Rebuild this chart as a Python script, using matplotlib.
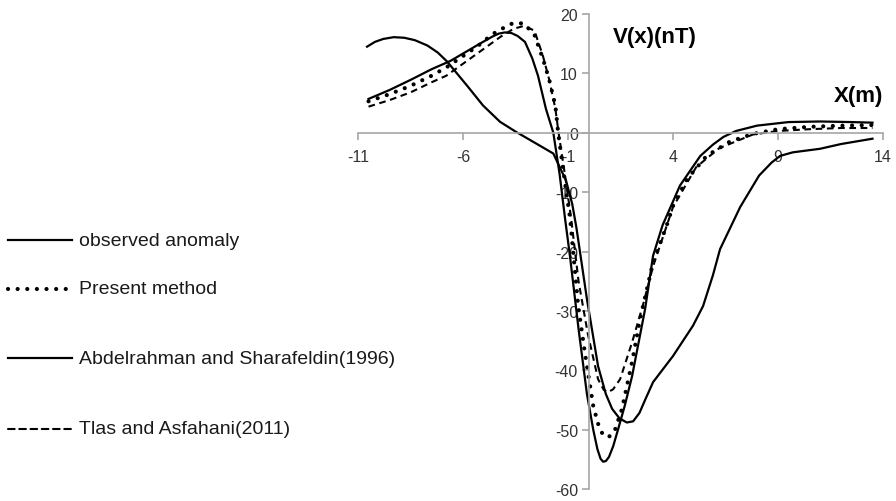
import matplotlib
matplotlib.use('Agg')
import matplotlib.pyplot as plt
from matplotlib.lines import Line2D

plt.rcParams['font.family'] = ['Liberation Sans', 'DejaVu Sans']
plt.rcParams['axes.unicode_minus'] = False

# observed anomaly (solid)
obs_x = [-10.5, -9.5, -8.5, -7.5, -6.6, -5.2, -4.6, -4.3, -4.0, -3.7, -3.4, -3.05, -2.7, -2.43, -2.05, -1.7,
         -1.4, -1.14, -0.9, -0.5, -0.1, 0.2, 0.4, 0.55, 0.67, 0.8, 0.95, 1.15, 1.38, 1.7, 2.05, 2.67, 3.05, 3.5,
         4.33, 5.3, 5.9, 6.4, 7.0, 8.0, 9.5, 11.0, 12.5, 13.5]
obs_y = [5.7, 7.2, 8.9, 10.7, 12.1, 15.0, 16.2, 16.7, 16.9, 16.8, 16.3, 15.3, 12.5, 9.6, 4.0, 0.0,
         -7.0, -14.5, -21.0, -33.0, -44.0, -50.0, -53.3, -54.9, -55.4, -55.3, -54.6, -52.8, -50.0, -46.0, -41.0, -29.7, -20.7, -15.6,
         -8.9, -3.9, -2.0, -0.7, 0.3, 1.2, 1.8, 1.9, 1.8, 1.7]

# present method (dotted)
pm_x = [-10.5, -9.5, -8.5, -7.5, -6.8, -5.3, -4.6, -4.0, -3.6, -3.1, -2.6, -2.2, -1.9, -1.6,
        -1.47, -1.2, -0.9, -0.52, -0.2, 0.2, 0.43, 0.65, 0.86, 1.05, 1.24, 1.57, 2.05, 2.43, 3.05, 3.7, 4.0,
        4.67, 5.6, 6.7, 7.8, 9.0, 10.5, 12.0, 13.5]
pm_y = [5.3, 6.5, 7.9, 9.6, 11.0, 14.6, 16.6, 17.8, 18.5, 18.4, 16.5, 12.5, 9.0, 4.5,
        0.0, -7.0, -14.5, -29.0, -37.0, -46.0, -49.0, -50.8, -51.3, -51.0, -50.0, -46.5, -38.6, -31.4, -21.8, -15.6, -12.3,
        -7.8, -3.9, -1.5, -0.2, 0.6, 1.0, 1.2, 1.3]

# Abdelrahman and Sharafeldin (1996) (solid)
ab_x = [-10.57, -10.2, -9.8, -9.3, -8.8, -8.3, -7.7, -7.2, -6.76, -5.8, -5.05, -4.24, -3.5, -2.67, -1.7, -1.1,
        -0.8, -0.6, -0.1, 0.43, 0.8, 1.1, 1.45, 1.8, 2.1, 2.4, 2.67, 3.05, 4.0, 4.95, 5.43, 5.9, 6.24, 7.2,
        8.1, 8.7, 9.1, 9.7, 11.0, 12.0, 13.5]
ab_y = [14.5, 15.3, 15.8, 16.1, 16.0, 15.6, 14.7, 13.5, 12.0, 7.9, 4.6, 1.85, 0.2, -1.5, -3.5, -8.0,
        -12.0, -16.0, -28.0, -39.3, -44.0, -46.5, -48.1, -48.8, -48.6, -47.2, -45.0, -42.0, -37.6, -32.5, -29.2, -24.0, -19.6, -12.5,
        -7.2, -5.0, -3.9, -3.3, -2.7, -1.9, -1.0]

# Tlas and Asfahani (2011) (dashed)
ta_x = [-10.5, -9.5, -8.5, -7.5, -6.8, -5.3, -4.2, -3.6, -3.1, -2.6, -2.2, -1.9, -1.6, -1.45,
        -1.15, -0.85, -0.5, -0.05, 0.43, 0.7, 0.9, 1.15, 1.48, 2.05, 2.57, 3.05, 4.0, 5.1, 6.2, 7.8, 9.0,
        10.5, 12.0, 13.5]
ta_y = [4.4, 5.5, 6.8, 8.5, 9.6, 13.4, 16.2, 17.5, 18.0, 17.2, 13.0, 9.0, 4.0, 0.0,
        -7.0, -14.5, -25.0, -34.0, -41.5, -43.3, -43.7, -43.2, -41.5, -35.3, -29.0, -22.5, -12.5, -5.8, -2.6, -0.3, 0.3,
        0.6, 0.8, 0.8]

x_ticks = [-11, -6, -1, 4, 9, 14]
y_ticks = [-60, -50, -40, -30, -20, -10, 0, 10, 20]

dotted = (0, (0.01, 2.3))
dashed = (0, (3.2, 2.2))

fig = plt.figure(figsize=(8.96, 5.02), dpi=100)
ax = fig.add_axes([0.3996, 0.0239, 0.5859, 0.9462])

ax.plot(obs_x, obs_y, color='black', lw=1.6)
ax.plot(pm_x, pm_y, color='black', lw=3.0, linestyle=dotted, dash_capstyle='round')
ax.plot(ab_x, ab_y, color='black', lw=1.6)
ax.plot(ta_x, ta_y, color='black', lw=1.5, linestyle=dashed)

ax.set_xlim(-11, 14)
ax.set_ylim(-60, 20)
ax.set_xticks(x_ticks)
ax.set_yticks(y_ticks)

ax.spines['left'].set_position(('data', 0))
ax.spines['bottom'].set_position(('data', 0))
ax.spines['right'].set_visible(False)
ax.spines['top'].set_visible(False)
for s in ['left', 'bottom']:
    ax.spines[s].set_color('#a6a6a6')
    ax.spines[s].set_linewidth(1.2)
ax.tick_params(axis='both', colors='#a6a6a6', labelcolor='#333333', labelsize=11.5,
               direction='out', length=5, width=1.2)
ax.tick_params(axis='x', pad=7)
ax.tick_params(axis='y', pad=3)
ax.patch.set_visible(False)

ax.text(1.14, 16.2, 'V(x)(nT)', fontsize=16, fontweight='bold', va='center', ha='left')
ax.text(14, 6.2, 'X(m)', fontsize=16, fontweight='bold', va='center', ha='right')

# legend drawn by hand at the left
labels = ['observed anomaly', 'Present method', 'Abdelrahman and Sharafeldin(1996)', 'Tlas and Asfahani(2011)']
styles = [('-', 1.6), (dotted, 3.0), ('-', 1.6), (dashed, 1.5)]
rows = [241, 290, 359, 430]
for lab, (ls, lw), r in zip(labels, styles, rows):
    yf = 1 - r / 502
    fig.add_artist(Line2D([8 / 896, 72 / 896], [yf, yf], color='black', lw=lw,
                          linestyle=ls, dash_capstyle='round'))
    fig.text(79 / 896, yf, lab, fontsize=14, va='center', ha='left', color='#1a1a1a')

fig.savefig('out.png', dpi=100)
